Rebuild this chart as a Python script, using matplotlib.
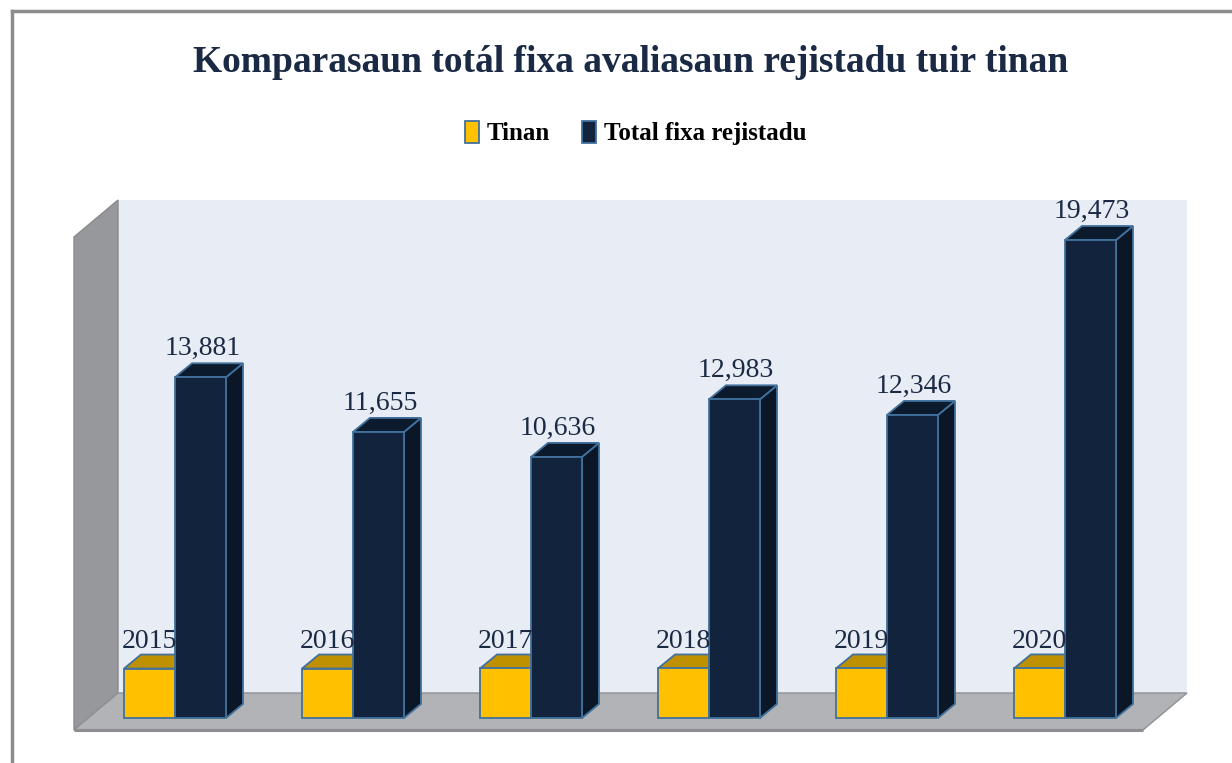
"""
Komparasaun totál fixa avaliasaun rejistadu tuir tinan - Excel style 3D column chart.
"""
import matplotlib
matplotlib.use("Agg")
import matplotlib.pyplot as plt
from matplotlib.patches import Polygon, Patch
from matplotlib.lines import Line2D

W, H, DPI = 1232, 763, 100

years = ["2015", "2016", "2017", "2018", "2019", "2020"]
tinan = [2015, 2016, 2017, 2018, 2019, 2020]
total_fixa = [13881, 11655, 10636, 12983, 12346, 19473]
series_names = ["Tinan", "Total fixa rejistadu"]

YELLOW = "#FFC000"
YELLOW_TOP = "#BF9000"
NAVY = "#12243D"
NAVY_TOP = "#0C1A2E"
NAVY_SIDE = "#0B1627"
EDGE = "#41719C"
TEXT = "#1B2A44"

# pixel layout of the plot box (measured on the reference)
PX_GROUP = 178.0          # px between category centres
PX_X0 = 175.0             # px of first category centre
PX_BASE = 718.0           # px (from top) of bar baseline
PX_PER_VAL = 478.0 / 19473.0
BAR_W = 51.0 / PX_GROUP
DEPTH_PX = (17.0, 14.0)


def px2x(px):
    return (px - PX_X0) / PX_GROUP


def py2y(py):
    return (PX_BASE - py) / PX_PER_VAL


DX = DEPTH_PX[0] / PX_GROUP
DY = DEPTH_PX[1] / PX_PER_VAL


def poly(ax, pts, color, z, edge="none", lw=0):
    ax.add_patch(Polygon(pts, closed=True, facecolor=color, edgecolor=edge,
                         linewidth=lw, zorder=z, joinstyle="miter"))


def bar3d(ax, x0, value, front, top, side, z):
    x1 = x0 + BAR_W
    ax.bar(x0, value, BAR_W, align="edge", color=front, edgecolor=EDGE,
           linewidth=1.3, zorder=z + 0.2)
    poly(ax, [(x0, value), (x0 + DX, value + DY), (x1 + DX, value + DY), (x1, value)],
         top, z + 0.1, EDGE, 1.3)
    poly(ax, [(x1, 0), (x1 + DX, DY), (x1 + DX, value + DY), (x1, value)],
         side, z, EDGE, 1.3)


fig = plt.figure(figsize=(W / DPI, H / DPI), dpi=DPI)
fig.patch.set_facecolor("white")
ax = fig.add_axes([0, 0, 1, 1])
ax.set_xlim(px2x(0), px2x(W))
ax.set_ylim(py2y(H), py2y(0))
ax.axis("off")

# walls and floor
back_l, back_r, back_t, back_b = 118, 1187, 200, 693
front_l, front_b, front_t = 74, 730, 237
front_r = 1143
poly(ax, [(px2x(back_l), py2y(back_t)), (px2x(back_r), py2y(back_t)),
          (px2x(back_r), py2y(back_b)), (px2x(back_l), py2y(back_b))], "#E8ECF5", 1)
poly(ax, [(px2x(front_l), py2y(front_t)), (px2x(back_l), py2y(back_t)),
          (px2x(back_l), py2y(back_b)), (px2x(front_l), py2y(front_b))], "#97989C", 1,
     "#8A8B8F", 1.0)
poly(ax, [(px2x(front_l), py2y(front_b)), (px2x(back_l), py2y(back_b)),
          (px2x(back_r), py2y(back_b)), (px2x(front_r), py2y(front_b))], "#B1B3B7", 1,
     "#8E9094", 1.0)
ax.plot([px2x(front_l), px2x(front_r)], [py2y(front_b), py2y(front_b)],
        color="#8C8E92", linewidth=2.2, zorder=1.5, solid_capstyle="butt")

for i in range(len(years)):
    xy = i - BAR_W
    xb = i
    bar3d(ax, xy, tinan[i], YELLOW, YELLOW_TOP, YELLOW_TOP, 3 + i)
    bar3d(ax, xb, total_fixa[i], NAVY, NAVY_TOP, NAVY_SIDE, 3.5 + i)
    ax.text(xy + BAR_W / 2, tinan[i] + DY * 1.05, years[i], ha="center", va="bottom",
            fontsize=20, family="Liberation Serif", color=TEXT, zorder=20)
    ax.text(xb + BAR_W / 2 + DX * 0.1, total_fixa[i] + DY * 1.15, f"{total_fixa[i]:,}",
            ha="center", va="bottom", fontsize=20, family="Liberation Serif",
            color=TEXT, zorder=20)

# chart border (top and left edges visible)
fig.add_artist(Line2D([12 / W, 1], [1 - 11 / H, 1 - 11 / H], color="#8C8C8C",
                      linewidth=2.5, transform=fig.transFigure))
fig.add_artist(Line2D([12 / W, 12 / W], [0, 1 - 11 / H], color="#8C8C8C",
                      linewidth=2.5, transform=fig.transFigure))

fig.text(0.512, 1 - 63 / H, "Komparasaun totál fixa avaliasaun rejistadu tuir tinan",
         ha="center", va="center", fontsize=27, fontweight="bold",
         family="Liberation Serif", fontstretch="condensed", color=TEXT)

handles = [Patch(facecolor=YELLOW, edgecolor=EDGE, linewidth=1.3),
           Patch(facecolor=NAVY, edgecolor=EDGE, linewidth=1.3)]
fig.legend(handles, series_names, loc="center", bbox_to_anchor=(0.516, 1 - 133 / H),
           ncol=2, frameon=False, handlelength=0.55, handleheight=1.0,
           handletextpad=0.3, columnspacing=1.3,
           prop={"family": "Liberation Serif", "weight": "bold", "size": 18})

fig.savefig("out.png", dpi=DPI)
